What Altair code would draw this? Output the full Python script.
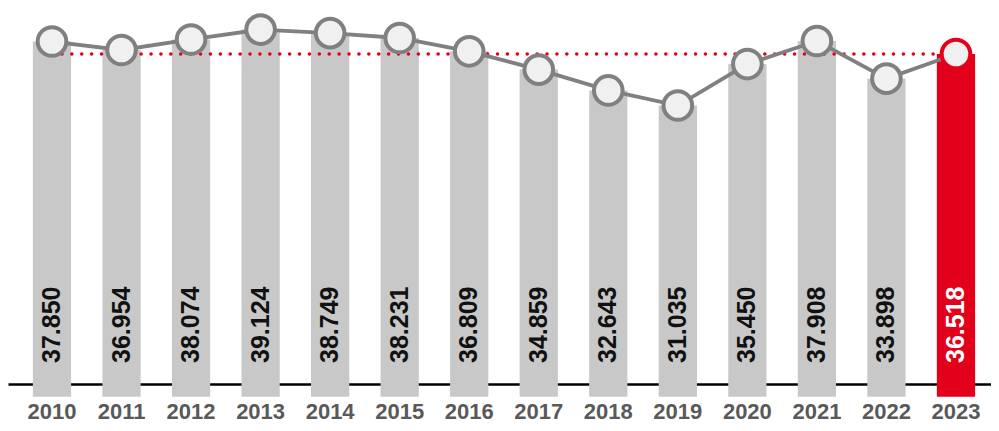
import altair as alt
import pandas as pd

years = ["2010", "2011", "2012", "2013", "2014", "2015", "2016",
         "2017", "2018", "2019", "2020", "2021", "2022", "2023"]
values = [37.850, 36.954, 38.074, 39.124, 38.749, 38.231, 36.809,
          34.859, 32.643, 31.035, 35.450, 37.908, 33.898, 36.518]
labels = ["37.850", "36.954", "38.074", "39.124", "38.749", "38.231", "36.809",
          "34.859", "32.643", "31.035", "35.450", "37.908", "33.898", "36.518"]
reference_value = 36.518
highlight_year = "2023"

RED = "#e2001a"
GRAY_BAR = "#c8c8c8"
GRAY_LINE = "#808080"

df = pd.DataFrame({"year": years, "value": values, "label": labels})
df["ref"] = reference_value
df["labely"] = 3.6
df["barcolor"] = [RED if yv == highlight_year else GRAY_BAR for yv in years]
df["ptstroke"] = [RED if yv == highlight_year else GRAY_LINE for yv in years]
df["txtcolor"] = ["#ffffff" if yv == highlight_year else "#111111" for yv in years]

x = alt.X("year:N",
          scale=alt.Scale(paddingInner=0.45, paddingOuter=0.293, align=0.61),
          axis=alt.Axis(title=None, ticks=False, labelAngle=0,
                        labelFont="Liberation Sans", labelFontWeight="bold",
                        labelFontSize=22, labelColor="#595959",
                        labelPadding=17, domainColor="#000000",
                        domainWidth=2.5, grid=False))
yscale = alt.Scale(domain=[1.36, 40.36], zero=False, nice=False)
y = alt.Y("value:Q", scale=yscale, axis=None)

base = alt.Chart(df)

bars = base.mark_bar().encode(
    x=x, y=y,
    color=alt.Color("barcolor:N", scale=None),
)

ref = base.mark_line(
    color=RED, strokeWidth=3.5, strokeDash=[0.1, 9.8], strokeCap="round"
).encode(x=x, y=alt.Y("ref:Q", scale=yscale, axis=None))

line = base.mark_line(color=GRAY_LINE, strokeWidth=3.8).encode(x=x, y=y)

points = base.mark_point(shape="circle", size=820, strokeWidth=4,
                         fill="#f0f0f0", fillOpacity=1, opacity=1).encode(
    x=x, y=y,
    stroke=alt.Stroke("ptstroke:N", scale=None),
)

text = base.mark_text(angle=270, align="left", baseline="middle",
                      font="Liberation Sans", fontWeight="bold", fontSize=25).encode(
    x=x, y=alt.Y("labely:Q", scale=yscale, axis=None), text="label:N",
    color=alt.Color("txtcolor:N", scale=None),
)

chart = alt.layer(bars, ref, line, points, text).properties(
    width=983, height=414, padding=0,
    autosize=alt.AutoSizeParams(type="fit", contains="padding"),
).configure_view(strokeWidth=0)

chart.save("out.html", embed_options={"renderer": "svg", "actions": False})
